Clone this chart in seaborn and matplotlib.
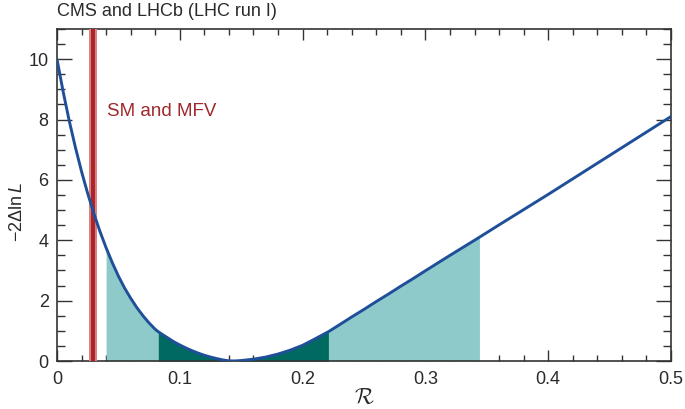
import numpy as np
import pandas as pd
import matplotlib
matplotlib.use("Agg")
import matplotlib.pyplot as plt
from matplotlib.ticker import MultipleLocator
import seaborn as sns

# ---- data ----
r_values = [0.0, 0.005, 0.01, 0.015, 0.02, 0.025, 0.03, 0.035, 0.04, 0.045,
            0.05, 0.055, 0.06, 0.065, 0.07, 0.075, 0.08, 0.0825, 0.085, 0.09,
            0.095, 0.10, 0.105, 0.11, 0.115, 0.12, 0.125, 0.13, 0.135, 0.14,
            0.145, 0.15, 0.16, 0.17, 0.18, 0.19, 0.20, 0.21, 0.215, 0.221,
            0.23, 0.24, 0.25, 0.26, 0.27, 0.28, 0.29, 0.30, 0.32, 0.344,
            0.36, 0.40, 0.45, 0.50]
nll_values = [10.0, 8.925, 7.95, 7.075, 6.275, 5.55, 4.89, 4.29, 3.75, 3.26,
              2.815, 2.42, 2.08, 1.77, 1.50, 1.26, 1.05, 0.97, 0.90, 0.77,
              0.64, 0.53, 0.43, 0.34, 0.26, 0.19, 0.13, 0.08, 0.035, 0.005,
              0.002, 0.015, 0.06, 0.13, 0.23, 0.36, 0.52, 0.73, 0.84, 0.97,
              1.20, 1.46, 1.71, 1.97, 2.22, 2.48, 2.73, 2.99, 3.50, 4.10,
              4.51, 5.52, 6.81, 8.10]
band_1sigma = (0.0825, 0.221)
band_2sigma = (0.04, 0.344)
sm_center = 0.0293
sm_inner = 0.0014
sm_outer = 0.0030
title_text = "CMS and LHCb (LHC run I)"
sm_label = "SM and MFV"
x_ticks = [0, 0.1, 0.2, 0.3, 0.4, 0.5]
x_tick_labels = ["0", "0.1", "0.2", "0.3", "0.4", "0.5"]
y_ticks = [0, 2, 4, 6, 8, 10]

df = pd.DataFrame({"R": r_values, "nll": nll_values})

sns.set_theme(style="ticks")
plt.rcParams["font.family"] = ["Liberation Sans", "DejaVu Sans"]
plt.rcParams["mathtext.fontset"] = "custom"
plt.rcParams["mathtext.rm"] = "Liberation Sans"
plt.rcParams["mathtext.it"] = "Liberation Sans:italic"

fig = plt.figure(figsize=(6.85, 4.09), dpi=100)
ax = fig.add_axes([57 / 685, 1 - 361 / 409, (671 - 57) / 685, (361 - 29) / 409])

light_teal = "#8ecaca"
dark_teal = "#006a60"
r = df["R"].to_numpy()
y = df["nll"].to_numpy()
m2 = (r >= band_2sigma[0] - 1e-9) & (r <= band_2sigma[1] + 1e-9)
ax.fill_between(r[m2], 0, y[m2], color=light_teal, linewidth=0, zorder=1)
m1 = (r >= band_1sigma[0] - 1e-9) & (r <= band_1sigma[1] + 1e-9)
ax.fill_between(r[m1], 0, y[m1], color=dark_teal, linewidth=0, zorder=2)

ax.axvspan(sm_center - sm_outer, sm_center + sm_outer, color="#dd7f80", linewidth=0, zorder=3)
ax.axvspan(sm_center - sm_inner, sm_center + sm_inner, color="#a8262b", linewidth=0, zorder=4)

sns.lineplot(data=df, x="R", y="nll", ax=ax, color="#1f4f99", linewidth=2.1, zorder=5)

ax.text(0.0405, 8.25, sm_label, color="#a0282c", fontsize=13.5, va="center", ha="left")

ax.set_xlim(0, 0.5)
ax.set_ylim(0, 11)
ax.set_xticks(x_ticks)
ax.set_xticklabels(x_tick_labels)
ax.set_yticks(y_ticks)
ax.xaxis.set_minor_locator(MultipleLocator(0.02))
ax.yaxis.set_minor_locator(MultipleLocator(0.5))

tick_color = "#333333"
ax.tick_params(axis="both", which="both", direction="in", top=True, right=True,
               color=tick_color, width=1.0, labelsize=13, labelcolor="#2a2a2a")
ax.tick_params(axis="x", which="major", length=8, pad=7)
ax.tick_params(axis="x", which="minor", length=4)
ax.tick_params(axis="y", which="major", length=11, pad=6)
ax.tick_params(axis="y", which="minor", length=5.5)
for s in ax.spines.values():
    s.set_color(tick_color)
    s.set_linewidth(1.2)
    s.set_visible(True)

ax.set_xlabel(r"$\mathcal{R}$", fontsize=16, math_fontfamily="cm", labelpad=0, color="#2a2a2a")
ax.set_ylabel(r"$-2\Delta\ln\mathit{L}$", fontsize=13, color="#2a2a2a")
ax.yaxis.set_label_coords(-0.05, 0.45)

fig.text(57 / 685, 1 - 11 / 409, title_text, fontsize=13, ha="left", va="center", color="#2a2a2a")

fig.savefig("out.png", dpi=100)
